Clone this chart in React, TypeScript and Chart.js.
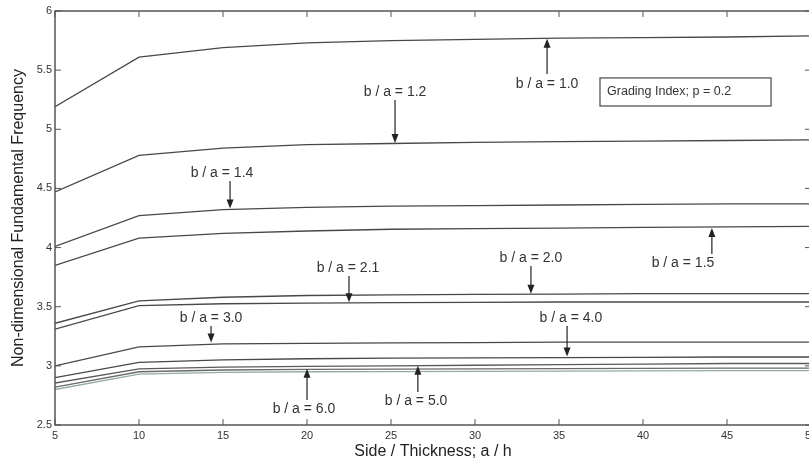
import React, { useEffect, useRef } from 'react';
import { Chart, registerables } from 'chart.js';

Chart.register(...registerables);

// a/h values
const xValues = [5, 10, 15, 20, 25, 30, 35, 40, 45, 50];

// Non-dimensional fundamental frequency per aspect ratio b/a
const ba10 = [5.19, 5.61, 5.69, 5.73, 5.75, 5.76, 5.77, 5.775, 5.78, 5.79];
const ba12 = [4.47, 4.78, 4.84, 4.87, 4.88, 4.89, 4.895, 4.9, 4.905, 4.91];
const ba14 = [4.01, 4.27, 4.32, 4.34, 4.35, 4.355, 4.36, 4.365, 4.37, 4.37];
const ba15 = [3.85, 4.08, 4.12, 4.14, 4.155, 4.16, 4.165, 4.17, 4.175, 4.18];
const ba20 = [3.36, 3.55, 3.58, 3.595, 3.6, 3.605, 3.607, 3.61, 3.61, 3.61];
const ba21 = [3.31, 3.51, 3.525, 3.53, 3.535, 3.537, 3.54, 3.54, 3.54, 3.54];
const ba30 = [3.0, 3.16, 3.185, 3.19, 3.195, 3.197, 3.2, 3.2, 3.2, 3.2];
const ba40 = [2.9, 3.03, 3.05, 3.06, 3.065, 3.068, 3.07, 3.072, 3.075, 3.075];
const ba50 = [2.855, 2.975, 2.99, 2.995, 3.0, 3.005, 3.01, 3.015, 3.02, 3.02];
const ba60 = [2.82, 2.95, 2.965, 2.97, 2.972, 2.975, 2.977, 2.978, 2.98, 2.98];
const baExtra = [2.8, 2.93, 2.945, 2.95, 2.952, 2.954, 2.956, 2.958, 2.96, 2.96];

const seriesNames = ['b/a=1.0', 'b/a=1.2', 'b/a=1.4', 'b/a=1.5', 'b/a=2.0', 'b/a=2.1', 'b/a=3.0', 'b/a=4.0', 'b/a=5.0', 'b/a=6.0', 'extra'];
const seriesValues = [ba10, ba12, ba14, ba15, ba20, ba21, ba30, ba40, ba50, ba60, baExtra];
const seriesColors = ['#484848', '#484848', '#484848', '#484848', '#484848', '#484848', '#484848', '#484848', '#5a5a5a', '#6a6a6a', '#93aba3'];

const xTicks = [5, 10, 15, 20, 25, 30, 35, 40, 45, 50];
const yTicks = [2.5, 3, 3.5, 4, 4.5, 5, 5.5, 6];

const xTitle = 'Side / Thickness; a / h';
const yTitle = 'Non-dimensional Fundamental Frequency';
const boxText = 'Grading Index; p = 0.2';

// annotations: label text, label centre (data), arrow x, arrow start y, arrow tip y
const noteTexts = ['b / a = 1.0', 'b / a = 1.2', 'b / a = 1.4', 'b / a = 1.5', 'b / a = 2.1', 'b / a = 2.0', 'b / a = 3.0', 'b / a = 4.0', 'b / a = 6.0', 'b / a = 5.0'];
const noteTextX = [34.29, 25.24, 14.94, 42.38, 22.44, 33.33, 14.29, 35.71, 19.82, 26.49];
const noteTextY = [5.383, 5.315, 4.63, 3.87, 3.83, 3.91, 3.405, 3.405, 2.636, 2.703];
const noteArrowX = [34.29, 25.24, 15.42, 44.1, 22.5, 33.33, 14.29, 35.48, 20.0, 26.6];
const noteArrowFrom = [5.467, 5.248, 4.563, 3.946, 3.76, 3.845, 3.337, 3.337, 2.712, 2.78];
const noteArrowTo = [5.765, 4.885, 4.33, 4.165, 3.537, 3.61, 3.198, 3.08, 2.975, 3.0];

const FONT = '"Liberation Sans", Arial, Helvetica, sans-serif';

const framePlugin = {
  id: 'frame',
  afterDraw(chart: any) {
    const { ctx, chartArea } = chart;
    const { left, right, top, bottom } = chartArea;
    const x = chart.scales.x;
    const y = chart.scales.y;
    ctx.save();
    ctx.strokeStyle = '#555';
    ctx.lineWidth = 1.5;
    ctx.strokeRect(left, top, right - left, bottom - top);
    ctx.lineWidth = 1;
    const seg = (x0: number, y0: number, x1: number, y1: number) => {
      ctx.beginPath();
      ctx.moveTo(x0, y0);
      ctx.lineTo(x1, y1);
      ctx.stroke();
    };
    xTicks.forEach((v) => {
      const px = x.getPixelForValue(v);
      seg(px, bottom, px, bottom - 6);
      seg(px, top, px, top + 6);
    });
    yTicks.forEach((v) => {
      const py = y.getPixelForValue(v);
      seg(left, py, left + 6, py);
      seg(right, py, right - 6, py);
    });

    // annotations
    ctx.font = '14px ' + FONT;
    ctx.fillStyle = '#333';
    ctx.textAlign = 'center';
    ctx.textBaseline = 'middle';
    ctx.strokeStyle = '#222';
    noteTexts.forEach((t, i) => {
      ctx.fillText(t, x.getPixelForValue(noteTextX[i]), y.getPixelForValue(noteTextY[i]));
      const ax = x.getPixelForValue(noteArrowX[i]);
      const y0 = y.getPixelForValue(noteArrowFrom[i]);
      const y1 = y.getPixelForValue(noteArrowTo[i]);
      const dir = y1 > y0 ? 1 : -1;
      ctx.lineWidth = 1.2;
      seg(ax, y0, ax, y1 - dir * 6);
      ctx.beginPath();
      ctx.moveTo(ax, y1);
      ctx.lineTo(ax - 3.5, y1 - dir * 9);
      ctx.lineTo(ax + 3.5, y1 - dir * 9);
      ctx.closePath();
      ctx.fillStyle = '#222';
      ctx.fill();
      ctx.fillStyle = '#333';
    });

    // grading index box
    const bx0 = x.getPixelForValue(37.44);
    const bx1 = x.getPixelForValue(47.62);
    const by0 = y.getPixelForValue(5.434);
    const by1 = y.getPixelForValue(5.197);
    ctx.strokeStyle = '#555';
    ctx.lineWidth = 1.3;
    ctx.strokeRect(bx0, by0, bx1 - bx0, by1 - by0);
    ctx.font = '12.5px ' + FONT;
    ctx.textAlign = 'left';
    ctx.fillStyle = '#333';
    ctx.fillText(boxText, x.getPixelForValue(37.86), (by0 + by1) / 2);
    ctx.restore();
  },
};

export default function App() {
  const ref = useRef<HTMLCanvasElement | null>(null);
  useEffect(() => {
    if (!ref.current) return;
    const chart = new Chart(ref.current, {
      type: 'line',
      data: {
        datasets: seriesValues.map((vals, i) => ({
          label: seriesNames[i],
          data: xValues.map((xv, j) => ({ x: xv, y: vals[j] })),
          borderColor: seriesColors[i],
          borderWidth: 1.3,
          pointRadius: 0,
          tension: 0,
          fill: false,
        })),
      },
      options: {
        animation: false,
        responsive: false,
        events: [],
        layout: { padding: { top: 11, right: 4, left: 0, bottom: 0 } },
        plugins: { legend: { display: false }, tooltip: { enabled: false } },
        scales: {
          x: {
            type: 'linear',
            min: 5,
            max: 50,
            grid: { display: false, drawTicks: false },
            border: { display: false },
            afterBuildTicks: (s: any) => {
              s.ticks = xTicks.map((v) => ({ value: v }));
            },
            afterFit: (s: any) => {
              s.height = 41;
              s.paddingLeft = 0;
              s.paddingRight = 0;
            },
            ticks: {
              autoSkip: false,
              maxRotation: 0,
              padding: 4,
              color: '#333',
              font: { family: FONT, size: 11 },
              callback: (v: any) => String(v),
            },
            title: {
              display: true,
              text: xTitle,
              color: '#222',
              font: { family: FONT, size: 16 },
              padding: { top: 0, bottom: 5 },
            },
          },
          y: {
            type: 'linear',
            min: 2.5,
            max: 6,
            grid: { display: false, drawTicks: false },
            border: { display: false },
            afterBuildTicks: (s: any) => {
              s.ticks = yTicks.map((v) => ({ value: v }));
            },
            afterFit: (s: any) => {
              s.width = 55;
              s.paddingTop = 0;
              s.paddingBottom = 0;
            },
            ticks: {
              autoSkip: false,
              padding: 3,
              color: '#333',
              font: { family: FONT, size: 11 },
              callback: (v: any) => String(v),
            },
            title: {
              display: true,
              text: yTitle,
              color: '#222',
              font: { family: FONT, size: 16 },
              padding: { top: 9, bottom: 0 },
            },
          },
        },
      },
      plugins: [framePlugin],
    } as any);
    return () => chart.destroy();
  }, []);
  return (
    <div style={{ position: 'fixed', left: 0, top: 0, width: 809, height: 466, overflow: 'hidden', background: '#fff' }}>
      <canvas ref={ref} width={815} height={466} style={{ width: 815, height: 466, display: 'block' }} />
    </div>
  );
}
